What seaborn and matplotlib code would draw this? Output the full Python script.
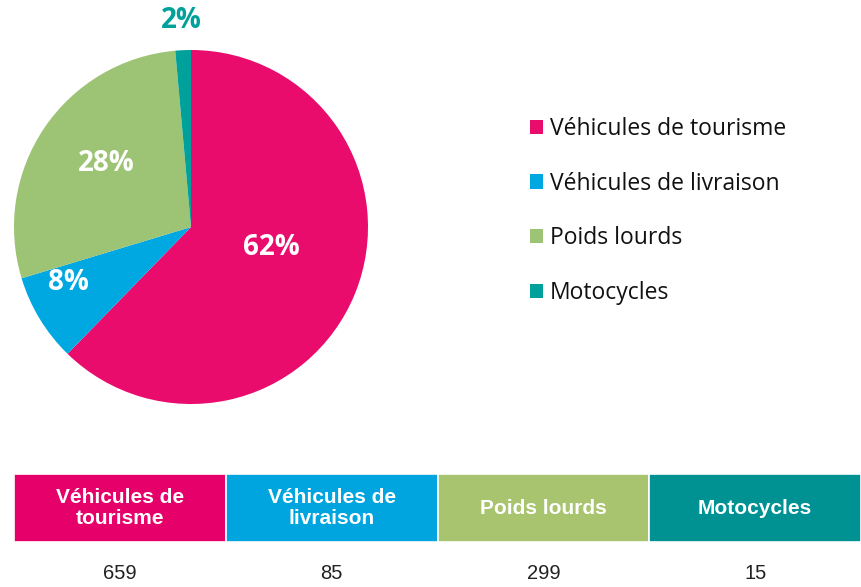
import numpy as np
import matplotlib
matplotlib.use("Agg")
import matplotlib.pyplot as plt
import seaborn as sns

# Vehicle categories, counts and the percentage labels printed on the pie
categories = ["Véhicules de tourisme", "Véhicules de livraison", "Poids lourds", "Motocycles"]
header_labels = ["Véhicules de\ntourisme", "Véhicules de\nlivraison", "Poids lourds", "Motocycles"]
counts = [659, 85, 299, 15]
pct_labels = ["62%", "8%", "28%", "2%"]

pie_colors = ["#E90C6D", "#00A8E2", "#9DC374", "#00A19A"]
table_colors = ["#E5006A", "#00A5E0", "#A9C46E", "#009193"]

sns.set_theme(style="white")
plt.rcParams["font.family"] = ["Open Sans", "DejaVu Sans"]

W, H = 861, 587
fig = plt.figure(figsize=(W / 100, H / 100), dpi=100)
fig.patch.set_facecolor("white")


def px_axes(x0, y0, x1, y1):
    """Axes placed by pixel box (top-left origin)."""
    return fig.add_axes([x0 / W, 1 - y1 / H, (x1 - x0) / W, (y1 - y0) / H])


# ---- pie ----
cx, cy, r = 191, 227, 177
ax = px_axes(cx - r, cy - r, cx + r, cy + r)
wedges, _ = ax.pie(counts, colors=pie_colors, startangle=90, counterclock=False,
                   radius=1.0, wedgeprops=dict(linewidth=0))
ax.set_xlim(-1, 1)
ax.set_ylim(-1, 1)
ax.set_aspect("auto")
ax.axis("off")

# label radius / angular offset per wedge
label_r = [0.47, 0.76, 0.6, 1.17]
label_dang = [8, -7, -3, 0]
label_col = ["white", "white", "white", pie_colors[3]]
for w, lab, rr, da, col in zip(wedges, pct_labels, label_r, label_dang, label_col):
    mid = np.deg2rad((w.theta1 + w.theta2) / 2 + da)
    ax.text(rr * np.cos(mid), rr * np.sin(mid), lab, ha="center", va="center",
            fontsize=20, fontweight="bold", color=col, clip_on=False)

# ---- legend ----
leg = fig.legend(wedges, categories, loc="upper left",
                 bbox_to_anchor=(530 / W, 1 - 117 / H), frameon=False,
                 fontsize=16.5, handlelength=0.58, handleheight=0.58,
                 handletextpad=0.3, labelspacing=1.34, borderpad=0,
                 borderaxespad=0)
for t in leg.get_texts():
    t.set_color("#111111")

# ---- table: coloured header row + counts ----
ax_t = px_axes(14, 474, 861, 542)
sns.barplot(x=header_labels, y=[1] * len(counts), hue=header_labels,
            palette=table_colors, saturation=1, width=1.0, edgecolor="white",
            linewidth=1.2, legend=False, ax=ax_t)
ax_t.set_xlim(-0.5, len(counts) - 0.5)
ax_t.set_ylim(0, 1)
ax_t.axis("off")
table_font = ["Liberation Sans Narrow", "Liberation Sans", "DejaVu Sans"]
for i, (lab, n) in enumerate(zip(header_labels, counts)):
    ax_t.text(i, 0.5, lab, ha="center", va="center", color="white",
              fontsize=15, fontweight="bold", linespacing=1.08,
              family=table_font)
    ax_t.text(i, -0.46, f"{n}", ha="center", va="center", color="#222222",
              fontsize=14.5, clip_on=False, family=table_font)

fig.savefig("out.png", dpi=100, facecolor="white")
